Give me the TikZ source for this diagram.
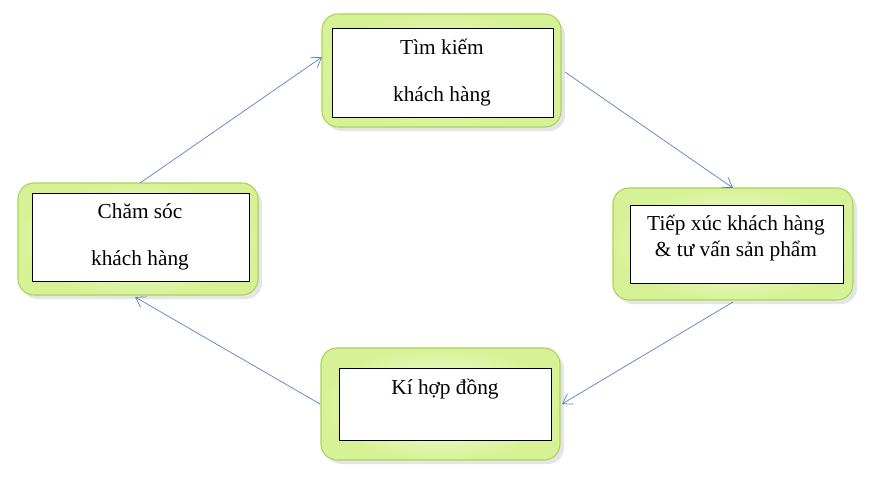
\documentclass[tikz,border=0pt]{standalone}
\usepackage{fontspec}
\setmainfont{Liberation Serif}
\usetikzlibrary{arrows.meta}

\tikzset{
  outerbox/.style={rounded corners=12, draw={rgb,255:red,170;green,210;blue,90}, line width=0.8pt,
    inner color={rgb,255:red,252;green,255;blue,240}, outer color={rgb,255:red,215;green,242;blue,150}},
  innerbox/.style={draw=black, fill=white, line width=0.6pt},
  steplabel/.style={font=\fontsize{16}{18}\selectfont, anchor=base},
  link/.style={draw={rgb,255:red,80;green,125;blue,190}, line width=0.5pt, -{Straight Barb[length=7pt,width=9pt]}}
}

\begin{document}
\begin{tikzpicture}[x=0.75pt,y=-0.75pt]
\useasboundingbox (0,0) rectangle (871,479);
% top: tim kiem
\fill[gray!20, rounded corners=12] (326,19) rectangle (565,131);
\draw[outerbox] (322,14) rectangle (561,127);
\draw[innerbox] (332,28) rectangle (553,117);
\node[steplabel] (tkA) at (442,54) {Tìm kiếm};
\node[steplabel] (tkB) at (442,101) {khách hàng};
% right: tiep xuc
\fill[gray!20, rounded corners=12] (617,193) rectangle (857,304);
\draw[outerbox] (613,188) rectangle (853,300);
\draw[innerbox] (630,205) rectangle (843,283);
\node[steplabel] (txA) at (736,230) {Tiếp xúc khách hàng};
\node[steplabel] (txB) at (736,256) {\& tư vấn sản phẩm};
% bottom: ki hop dong
\fill[gray!20, rounded corners=12] (325,353) rectangle (564,464);
\draw[outerbox] (321,348) rectangle (560,460);
\draw[innerbox] (339,368) rectangle (551,440);
\node[steplabel] (khd) at (445,394) {Kí hợp đồng};
% left: cham soc
\fill[gray!20, rounded corners=12] (22,188) rectangle (262,299);
\draw[outerbox] (18,183) rectangle (258,295);
\draw[innerbox] (32,193) rectangle (249,281);
\node[steplabel] (csA) at (140,218) {Chăm sóc};
\node[steplabel] (csB) at (140,265) {khách hàng};
% links
\coordinate (a1) at (140,183); \coordinate (a2) at (322,57);
\coordinate (b1) at (565,72);  \coordinate (b2) at (733,188);
\coordinate (c1) at (733,302); \coordinate (c2) at (562,404);
\coordinate (d1) at (320,404); \coordinate (d2) at (135,297);
\draw[link] (a1) -- (a2);
\draw[link] (b1) -- (b2);
\draw[link] (c1) -- (c2);
\draw[link] (d1) -- (d2);
\end{tikzpicture}
\end{document}
